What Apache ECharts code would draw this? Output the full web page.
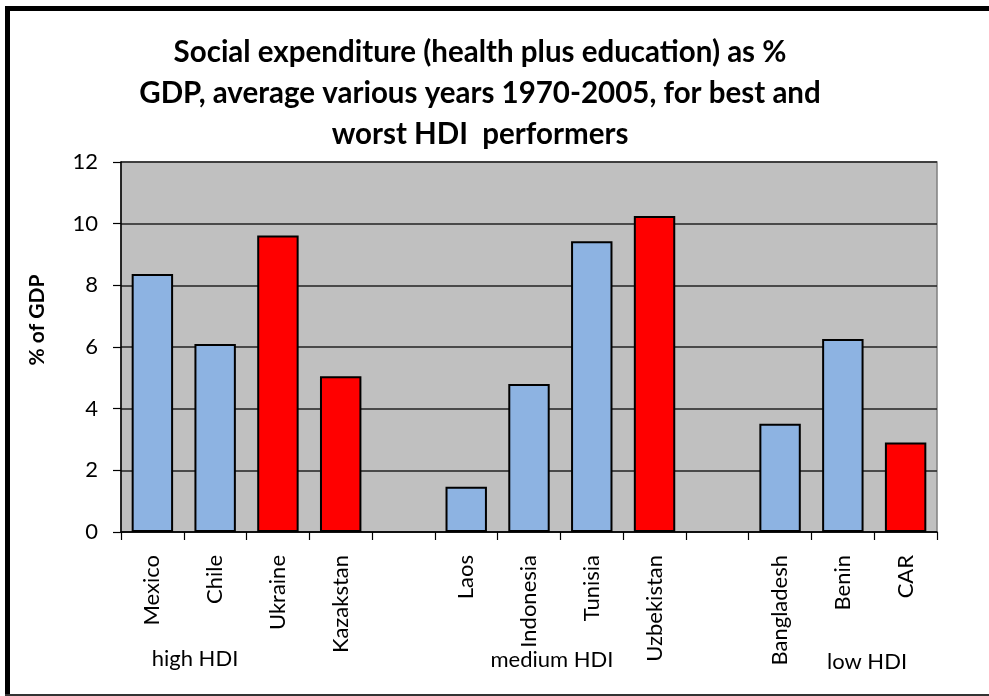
<!DOCTYPE html>
<html>
<head>
<meta charset="utf-8">
<script src="https://cdn.jsdelivr.net/npm/echarts@6/dist/echarts.min.js"></script>
<style>
  html, body { margin: 0; padding: 0; background: #ffffff; }
  #chart { width: 989px; height: 696px; }
</style>
</head>
<body>
<div id="chart"></div>
<script>
// ---- data ----
const categories = ['Mexico', 'Chile', 'Ukraine', 'Kazakstan', '', 'Laos', 'Indonesia', 'Tunisia', 'Uzbekistan', '', 'Bangladesh', 'Benin', 'CAR'];
const values = [8.37, 6.1, 9.62, 5.05, null, 1.47, 4.8, 9.43, 10.25, null, 3.51, 6.26, 2.9];
const performer = ['best', 'best', 'worst', 'worst', '', 'best', 'best', 'best', 'worst', '', 'best', 'best', 'worst'];
const groupLabels = ['high HDI', 'medium HDI', 'low HDI'];
const yTicks = { min: 0, max: 12, interval: 2 };
const titleLines = [
  'Social expenditure (health plus education) as %',
  'GDP, average various years 1970-2005, for best and',
  'worst HDI  performers'
];
const yAxisName = '% of GDP';

const colors = { best: '#8DB3E2', worst: '#FF0000' };
const FONT = 'Lato, "Open Sans", sans-serif';

const barData = values.map((v, i) => ({
  value: v,
  itemStyle: { color: colors[performer[i]] || '#8DB3E2' }
}));

const chart = echarts.init(document.getElementById('chart'), null, { renderer: 'canvas' });

const groupPos = [
  { x: 195, y: 659 },
  { x: 552, y: 660 },
  { x: 867, y: 662 }
];

chart.setOption({
  animation: false,
  backgroundColor: '#ffffff',
  grid: {
    left: 121,
    right: 52,
    top: 162,
    bottom: 164,
    show: true,
    backgroundColor: '#C0C0C0',
    borderColor: '#808080',
    borderWidth: 1.5
  },
  xAxis: {
    type: 'category',
    data: categories,
    axisLine: { show: true, lineStyle: { color: '#000', width: 1.5 } },
    axisTick: { show: true, length: 8, lineStyle: { color: '#000', width: 1.2 } },
    axisLabel: {
      rotate: 90,
      interval: 0,
      margin: 23,
      fontFamily: FONT,
      fontSize: 22,
      color: '#000'
    }
  },
  yAxis: {
    type: 'value',
    min: yTicks.min,
    max: yTicks.max,
    interval: yTicks.interval,
    name: yAxisName,
    nameLocation: 'middle',
    nameGap: 73,
    nameRotate: 90,
    nameTextStyle: {
      fontFamily: FONT, fontSize: 21, fontWeight: 'bold', color: '#000',
      padding: [0, 0, 0, 54]
    },
    axisLine: { show: true, lineStyle: { color: '#000', width: 1.5 } },
    axisTick: { show: true, length: 8, lineStyle: { color: '#000', width: 1.2 } },
    axisLabel: { margin: 23, fontFamily: FONT, fontSize: 22, color: '#000' },
    splitLine: { show: true, lineStyle: { color: '#222', width: 1.5 } }
  },
  series: [{
    type: 'bar',
    data: barData,
    barWidth: '66%',
    itemStyle: { borderColor: '#000', borderWidth: 2 }
  }],
  graphic: [
    // outer frame
    { type: 'rect', shape: { x: 5, y: 6, width: 990, height: 5 }, style: { fill: '#000' }, silent: true },
    { type: 'rect', shape: { x: 5, y: 6, width: 5, height: 690 }, style: { fill: '#000' }, silent: true },
    { type: 'rect', shape: { x: 5, y: 694, width: 990, height: 2 }, style: { fill: '#333' }, silent: true },
    // chart title
    {
      type: 'text',
      x: 480,
      y: 32,
      style: {
        text: titleLines.join('\n'),
        fontFamily: FONT,
        fontSize: 29.5,
        fontWeight: 'bold',
        fill: '#000',
        lineHeight: 41,
        align: 'center',
        verticalAlign: 'top'
      },
      silent: true
    }
  ].concat(groupLabels.map((t, i) => ({
    type: 'text',
    x: groupPos[i].x,
    y: groupPos[i].y,
    style: {
      text: t,
      fontFamily: FONT,
      fontSize: 22,
      fill: '#000',
      align: 'center',
      verticalAlign: 'middle'
    },
    silent: true
  })))
});
</script>
</body>
</html>
